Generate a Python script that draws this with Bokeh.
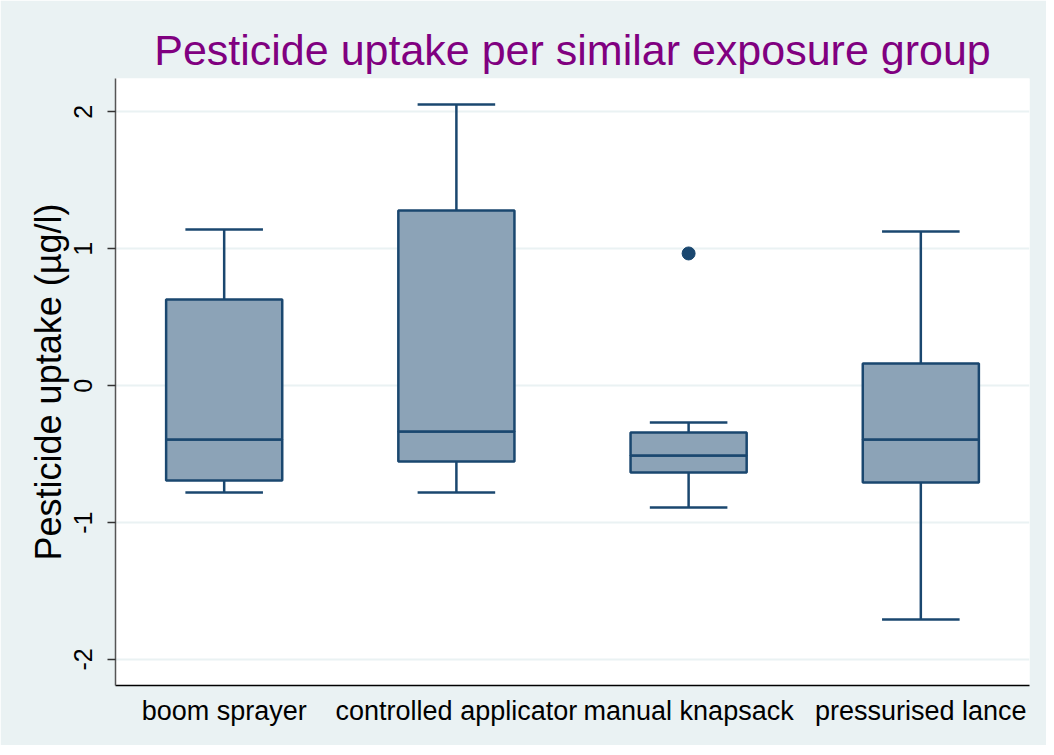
from bokeh.plotting import figure
from bokeh.models import ColumnDataSource, FactorRange, Range1d, FixedTicker
from bokeh.transform import dodge
from bokeh.embed import file_html
from bokeh.resources import INLINE

# ---- data ----
groups = ["boom sprayer", "controlled applicator", "manual knapsack", "pressurised lance"]
upper_whisker = [1.141, 2.054, -0.269, 1.126]
q3 = [0.629, 1.280, -0.342, 0.162]
median = [-0.393, -0.334, -0.510, -0.393]
q1 = [-0.692, -0.554, -0.634, -0.707]
lower_whisker = [-0.780, -0.780, -0.890, -1.708]
outlier_groups = ["manual knapsack"]
outlier_values = [0.966]
y_ticks = [-2, -1, 0, 1, 2]
y_tick_labels = ["-2", "-1", "0", "1", "2"]

NAVY = "#1A476F"
BOXFILL = "#8CA3B7"
BG = "#EAF2F3"
FONT = "Liberation Sans"

src = ColumnDataSource(dict(cat=groups, up=upper_whisker, q3=q3, med=median,
                            q1=q1, lo=lower_whisker))
osrc = ColumnDataSource(dict(cat=outlier_groups, val=outlier_values))

p = figure(width=1046, height=745, output_backend="svg", toolbar_location=None,
           x_range=FactorRange(factors=groups, range_padding=-0.016),
           y_range=Range1d(-2.19, 2.244),
           min_border_left=115, min_border_right=17, min_border_top=78,
           min_border_bottom=60,
           title="Pesticide uptake per similar exposure group")

p.background_fill_color = "white"
p.border_fill_color = BG
p.outline_line_color = None

# title
p.title.text_font = FONT
p.title.text_font_size = "43px"
p.title.text_font_style = "normal"
p.title.text_color = "#800080"
p.title.align = "center"
p.title.standoff = 9

# whiskers
p.segment(x0="cat", y0="q3", x1="cat", y1="up", source=src, line_color=NAVY, line_width=2.5)
p.segment(x0="cat", y0="q1", x1="cat", y1="lo", source=src, line_color=NAVY, line_width=2.5)
p.segment(x0=dodge("cat", -0.167, range=p.x_range), x1=dodge("cat", 0.167, range=p.x_range),
          y0="up", y1="up", source=src, line_color=NAVY, line_width=2.5)
p.segment(x0=dodge("cat", -0.167, range=p.x_range), x1=dodge("cat", 0.167, range=p.x_range),
          y0="lo", y1="lo", source=src, line_color=NAVY, line_width=2.5)

# boxes
p.vbar(x="cat", width=0.5, bottom="q1", top="med", source=src,
       fill_color=BOXFILL, line_color=NAVY, line_width=2.5)
p.vbar(x="cat", width=0.5, bottom="med", top="q3", source=src,
       fill_color=BOXFILL, line_color=NAVY, line_width=2.5)

# outliers
p.scatter(x="cat", y="val", source=osrc, size=13, fill_color=NAVY, line_color=NAVY)

# grid
p.xgrid.grid_line_color = None
p.ygrid.grid_line_color = BG
p.ygrid.grid_line_width = 2
p.ygrid.ticker = FixedTicker(ticks=y_ticks)

# y axis
p.yaxis.ticker = FixedTicker(ticks=y_ticks)
p.yaxis.major_label_overrides = {t: s for t, s in zip(y_ticks, y_tick_labels)}
p.yaxis.axis_label = "Pesticide uptake (µg/l)"
p.yaxis.axis_label_text_font = FONT
p.yaxis.axis_label_text_font_size = "36px"
p.yaxis.axis_label_text_font_style = "normal"
p.yaxis.axis_label_text_color = "black"
p.yaxis.axis_label_standoff = 3
p.yaxis.major_label_orientation = "vertical"
p.yaxis.major_label_text_font = FONT
p.yaxis.major_label_text_font_size = "25px"
p.yaxis.major_label_text_color = "black"
p.yaxis.major_label_standoff = 15
p.yaxis.major_tick_out = 8
p.yaxis.major_tick_in = 0
p.yaxis.minor_tick_line_color = None
p.yaxis.axis_line_color = "#555555"
p.yaxis.axis_line_width = 1.5
p.yaxis.major_tick_line_color = "#333333"
p.yaxis.major_tick_line_width = 1.5

# x axis
p.xaxis.major_label_text_font = FONT
p.xaxis.major_label_text_font_size = "27px"
p.xaxis.major_label_text_color = "black"
p.xaxis.major_label_standoff = 4
p.xaxis.major_tick_line_color = None
p.xaxis.minor_tick_line_color = None
p.xaxis.axis_line_color = "black"
p.xaxis.axis_line_width = 1.5

open("out.html", "w").write(file_html(p, INLINE))
